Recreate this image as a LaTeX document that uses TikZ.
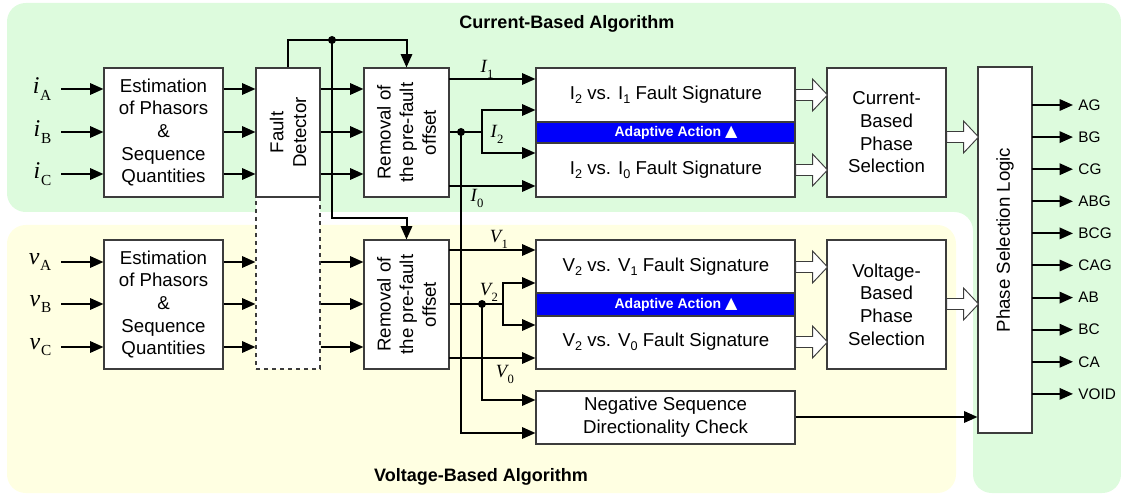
\documentclass[tikz,border=0pt]{standalone}
\usepackage{fontspec}
\setmainfont{Liberation Sans}
\newfontfamily\tms{Liberation Serif}
\newfontfamily\dejavu{DejaVu Sans}
\usetikzlibrary{arrows.meta,fit,calc}
\definecolor{curbg}{RGB}{221,251,221}
\definecolor{volbg}{RGB}{255,255,226}
\definecolor{actbar}{RGB}{0,0,250}
\definecolor{edge}{RGB}{60,60,60}
% phase quantity labels (i_A, v_A) and sequence labels (I_1, V_1)
\newcommand{\phq}[2]{{\tms\fontsize{18}{18}\selectfont\itshape #1\kern0.5pt\raisebox{-5pt}{\fontsize{11.5}{11.5}\selectfont\upshape #2}}}
\newcommand{\seq}[2]{{\tms\fontsize{14}{14}\selectfont\itshape #1\kern0.3pt\raisebox{-4.5pt}{\fontsize{9.5}{9.5}\selectfont\upshape #2}}}
\newcommand{\sbs}[1]{\raisebox{-3pt}{\fontsize{9.5}{9.5}\selectfont #1}}

\begin{document}
\begin{tikzpicture}[x=0.75pt, y=-0.75pt,
  font=\fontsize{14}{17}\selectfont,
  box/.style={draw=edge, line width=0.8pt, fill=white, inner sep=0pt},
  wire/.style={line width=1.5pt},
  sig/.style={line width=1.5pt, -{Triangle[length=10pt,width=8.5pt]}},
  dot/.style={circle, fill, inner sep=0pt, minimum size=6pt},
  outlbl/.style={anchor=west, font=\fontsize{11.5}{13}\selectfont},
  title/.style={font=\fontsize{13.5}{15}\selectfont\bfseries},
  hollow/.pic={\draw[draw=edge, line width=0.7pt, fill=white]
    (0,-5.5) -- (17,-5.5) -- (17,-16) -- (32,0) -- (17,16) -- (17,5.5) -- (0,5.5) -- cycle;}]
  \useasboundingbox (0,0) rectangle (1121,495);
  % Background areas
  \fill[curbg, rounded corners=14pt] (7,3) -- (1121,3) -- (1121,493) -- (973,493) -- (973,212) -- (7,212) -- cycle;
  \fill[volbg, rounded corners=14pt] (7,225) rectangle (956,493);
  \node[title] (tcur) at (567,24) {Current-Based Algorithm};
  \node[title] (tvol) at (481,477) {Voltage-Based Algorithm};

  % Current path boxes
  \node[box, fit={(104,68) (223,197)}] (estI) {};
  \node[align=center] (estItxt) at (estI) {Estimation\\of Phasors\\\&\\Sequence\\Quantities};
  \node[box, dashed, fit={(256,197) (320,369)}] (fdV) {};
  \node[box, fit={(256,68) (320,197)}] (fd) {};
  \node[rotate=90, align=center] (fdtxt) at (fd) {Fault\\Detector};
  \node[box, fit={(364,68) (449,197)}] (remI) {};
  \node[rotate=90, align=center] (remItxt) at (remI) {Removal of\\the pre-fault\\offset};
  \node[box, fit={(536,68) (795,197)}] (sigI) {};
  \node[box, fill=actbar, fit={(536,122) (795,143)}] (barI) {};
  \node[text=white, font=\fontsize{10.5}{12}\selectfont\bfseries] (actI) at (676,132.5) {Adaptive Action {\dejavu\fontsize{12}{12}\selectfont ▲}};
  \node (fsI1) at (666,95) {I\sbs{2} vs. I\sbs{1} Fault Signature};
  \node (fsI0) at (666,170) {I\sbs{2} vs. I\sbs{0} Fault Signature};
  \node[box, fit={(827,68) (946,197)}] (selI) {};
  \node[align=center] (selItxt) at (selI) {Current-\\Based\\Phase\\Selection};

  % Voltage path boxes
  \node[box, fit={(104,240) (223,369)}] (estV) {};
  \node[align=center] (estVtxt) at (estV) {Estimation\\of Phasors\\\&\\Sequence\\Quantities};
  \node[box, fit={(364,240) (449,369)}] (remV) {};
  \node[rotate=90, align=center] (remVtxt) at (remV) {Removal of\\the pre-fault\\offset};
  \node[box, fit={(536,240) (795,369)}] (sigV) {};
  \node[box, fill=actbar, fit={(536,293) (795,316)}] (barV) {};
  \node[text=white, font=\fontsize{10.5}{12}\selectfont\bfseries] (actV) at (676,304.5) {Adaptive Action {\dejavu\fontsize{12}{12}\selectfont ▲}};
  \node (fsV1) at (666,267) {V\sbs{2} vs. V\sbs{1} Fault Signature};
  \node (fsV0) at (666,342) {V\sbs{2} vs. V\sbs{0} Fault Signature};
  \node[box, fit={(827,240) (946,369)}] (selV) {};
  \node[align=center] (selVtxt) at (selV) {Voltage-\\Based\\Phase\\Selection};
  \node[box, fit={(536,391) (795,444)}] (ndc) {};
  \node[align=center] (ndctxt) at (ndc) {Negative Sequence\\Directionality Check};

  % Phase selection logic
  \node[box, fit={(978,67) (1032,433)}] (psl) {};
  \node[rotate=90] (psltxt) at (1005,240) {Phase Selection Logic};

  % Inputs
  \foreach \ph/\yi/\yv in {A/89/262, B/132/304, C/174/347} {
    \coordinate (i\ph) at (61,\yi);
    \coordinate (v\ph) at (61,\yv);
    \node[anchor=east] at (56,\yi) {\phq{i}{\ph}};
    \node[anchor=east] at (56,\yv) {\phq{v}{\ph}};
    \draw[sig] (i\ph) -- (estI.west |- i\ph);
    \draw[sig] (estI.east |- i\ph) -- (fd.west |- i\ph);
    \draw[sig] (fd.east |- i\ph) -- (remI.west |- i\ph);
    \draw[sig] (v\ph) -- (estV.west |- v\ph);
    \draw[sig] (estV.east |- v\ph) -- (fdV.west |- v\ph);
    \draw[sig] (fdV.east |- v\ph) -- (remV.west |- v\ph);
  }

  % Fault detector trip signal
  \coordinate (trip) at (332,40);
  \coordinate (tripdn) at (332,218);
  \draw[sig] (fd.north) |- (remI.north |- trip) -- (remI.north);
  \draw[sig] (trip) -- (tripdn) -| (remV.north);
  \node[dot] (tripdot) at (trip) {};

  % Current sequence quantities
  \coordinate (cI1) at (449,79);
  \coordinate (cI0) at (449,186);
  \coordinate (dI2) at (461,132);
  \coordinate (jI2) at (482,132);
  \draw[sig] (cI1) -- (sigI.west |- cI1);
  \draw[sig] (cI0) -- (sigI.west |- cI0);
  \draw[wire] (remI.east |- dI2) -- (jI2);
  \draw[sig] (jI2) |- (sigI.west |- 0,110);
  \draw[sig] (jI2) |- (sigI.west |- 0,153);
  \draw[sig] (dI2) |- (ndc.west |- 0,433);
  \node[dot] (dotI2) at (dI2) {};
  \node (lI1) at (487,69) {\seq{I}{1}};
  \node (lI2) at (497,134) {\seq{I}{2}};
  \node (lI0) at (477,198) {\seq{I}{0}};

  % Voltage sequence quantities
  \coordinate (cV1) at (449,250);
  \coordinate (cV0) at (449,358);
  \coordinate (dV2) at (482,304);
  \coordinate (jV2) at (503,304);
  \draw[sig] (cV1) -- (sigV.west |- cV1);
  \draw[sig] (cV0) -- (sigV.west |- cV0);
  \draw[wire] (remV.east |- dV2) -- (jV2);
  \draw[sig] (jV2) |- (sigV.west |- 0,283);
  \draw[sig] (jV2) |- (sigV.west |- 0,325);
  \draw[sig] (dV2) |- (ndc.west |- 0,400);
  \node[dot] (dotV2) at (dV2) {};
  \node (lV1) at (499,239) {\seq{V}{1}};
  \node (lV2) at (489,292) {\seq{V}{2}};
  \node (lV0) at (505,374) {\seq{V}{0}};

  % Hollow arrows between stages
  \path (sigI.east |- fsI1) pic {hollow};
  \path (sigI.east |- fsI0) pic {hollow};
  \path (sigV.east |- fsV1) pic {hollow};
  \path (sigV.east |- fsV0) pic {hollow};
  \path (selI.east |- 0,137) pic {hollow};
  \path (selV.east |- 0,304) pic {hollow};

  % Directionality check to logic
  \draw[sig] (ndc.east |- 0,417) -- (psl.west |- 0,417);

  % Outputs
  \foreach \out [count=\k from 0] in {AG,BG,CG,ABG,BCG,CAG,AB,BC,CA,VOID} {
    \coordinate (o\k) at (1032,{105+32.1*\k});
    \draw[sig] (o\k) -- ++(41,0) node[outlbl] {\out};
  }
\end{tikzpicture}
\end{document}
